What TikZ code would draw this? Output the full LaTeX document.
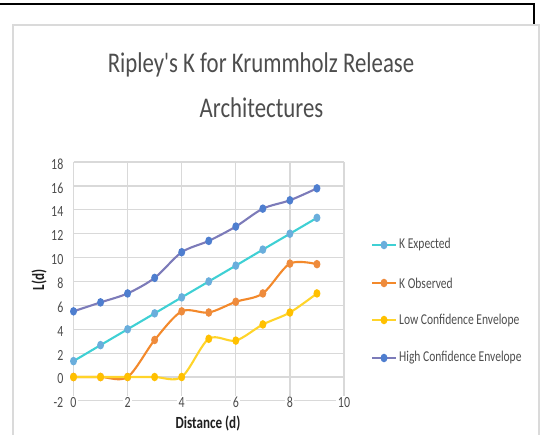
\documentclass[tikz,border=0pt]{standalone}
\usepackage{fontspec}
\newfontfamily\chartfont[FakeStretch=0.77]{Carlito}
\newfontfamily\titlefont[FakeStretch=0.80]{Carlito}
\definecolor{gridgray}{HTML}{D9D9D9}
\definecolor{framegray}{HTML}{DADADA}
\definecolor{txtgray}{HTML}{4D4D4D}
\definecolor{axisdark}{HTML}{1F1F1F}
\definecolor{expline}{HTML}{3FD0D4}
\definecolor{expmark}{HTML}{6AAEDC}
\definecolor{obsline}{HTML}{F3892B}
\definecolor{obsmark}{HTML}{EE8B3C}
\definecolor{lowline}{HTML}{FFD42A}
\definecolor{lowmark}{HTML}{FFC000}
\definecolor{highline}{HTML}{7C7BB9}
\definecolor{highmark}{HTML}{4E7ECF}
\tikzset{
  gridline/.style={draw=gridgray, line width=1.2pt},
  seriesline/.style={line width=2.1pt, line join=round, line cap=round},
  ticklabel/.style={font=\chartfont\fontsize{15.5}{15.5}\selectfont, text=txtgray, inner sep=1pt},
  legendtext/.style={font=\chartfont\fontsize{15}{15}\selectfont, text=txtgray, anchor=west, inner sep=0pt},
  axistitle/.style={font=\chartfont\bfseries\fontsize{17}{17}\selectfont, text=axisdark, inner sep=0pt},
  titletext/.style={font=\titlefont\fontsize{28.5}{28.5}\selectfont, text=txtgray, inner sep=0pt, anchor=base},
  dot/.style={x radius=3.5pt, y radius=4.3pt},
}
\begin{document}
\begin{tikzpicture}[x=1pt,y=1pt]
\useasboundingbox (0,0) rectangle (556,434);

% dark corner rule along the top edge
\coordinate (ruleL) at (0,430);
\coordinate (ruleC) at (534,430);
\coordinate (ruleD) at (534,409);
\draw[line width=2pt, line join=miter] (ruleL) -- (ruleC) -- (ruleD);

% chart frame
\draw[draw=framegray, line width=1.2pt] (13,-5) -- (13,409) -- (539,409) -- (539,-5);

% title
\node[titletext] (title1) at (261,361) {Ripley's K for Krummholz Release};
\node[titletext] (title2) at (261.5,316) {Architectures};

% plot area: data coordinates
\begin{scope}[shift={(73.5,57)}, x=27.05pt, y=11.94pt]
  \foreach \v in {-2,0,...,18}
    \draw[gridline] (0,\v) -- (10,\v);
  \foreach \u in {0,2,...,10}
    \draw[gridline] (\u,-2) -- (\u,18);

  \foreach \v [count=\i] in {-2,0,...,18}
    \node[ticklabel, anchor=east] (ytick\i) at ([xshift=-9pt,yshift=-2pt]0,\v) {\v};
  \foreach \u [count=\i] in {0,2,...,10}
    \node[ticklabel, fill=white, inner xsep=1.5pt] (xtick\i) at (\u,-2.1) {\u};

  % K Expected
  \foreach \y [count=\i from 0] in {1.33,2.67,4.0,5.33,6.67,8.0,9.33,10.67,12.0,13.33}
    \coordinate (e\i) at (\i,\y);
  \draw[seriesline, expline] plot[smooth, tension=0.5] coordinates {(e0)(e1)(e2)(e3)(e4)(e5)(e6)(e7)(e8)(e9)};
  \foreach \i in {0,...,9} \fill[expmark] (e\i) ellipse[dot];

  % K Observed
  \foreach \y [count=\i from 0] in {0,0,0,3.1,5.5,5.4,6.3,7.0,9.5,9.45}
    \coordinate (o\i) at (\i,\y);
  \draw[seriesline, obsline] plot[smooth, tension=0.5] coordinates {(o0)(o1)(o2)(o3)(o4)(o5)(o6)(o7)(o8)(o9)};
  \foreach \i in {0,...,9} \fill[obsmark] (o\i) ellipse[dot];

  % Low Confidence Envelope
  \foreach \y [count=\i from 0] in {0,0,0,0,0,3.2,3.05,4.4,5.4,7.0}
    \coordinate (l\i) at (\i,\y);
  \draw[seriesline, lowline] plot[smooth, tension=0.5] coordinates {(l0)(l1)(l2)(l3)(l4)(l5)(l6)(l7)(l8)(l9)};
  \foreach \i in {0,...,9} \fill[lowmark] (l\i) ellipse[dot];

  % High Confidence Envelope
  \foreach \y [count=\i from 0] in {5.5,6.25,7.0,8.3,10.45,11.4,12.6,14.1,14.8,15.8}
    \coordinate (h\i) at (\i,\y);
  \draw[seriesline, highline] plot[smooth, tension=0.5] coordinates {(h0)(h1)(h2)(h3)(h4)(h5)(h6)(h7)(h8)(h9)};
  \foreach \i in {0,...,9} \fill[highmark] (h\i) ellipse[dot];
\end{scope}

% axis titles
\node[axistitle, rotate=90] (ytitle) at (39,154) {L(d)};
\node[axistitle, anchor=base] (xtitle) at (208,6) {Distance (d)};

% legend
\foreach \n/\yy/\lc/\mc/\txt in {
    exp/189/expline/expmark/K Expected,
    obs/151/obsline/obsmark/K Observed,
    low/114/lowline/lowmark/Low Confidence Envelope,
    high/76/highline/highmark/High Confidence Envelope} {
  \coordinate (leg\n a) at (372,\yy);
  \coordinate (leg\n b) at (396,\yy);
  \coordinate (leg\n m) at (384,\yy);
  \draw[seriesline, \lc, line cap=butt] (leg\n a) -- (leg\n b);
  \fill[\mc] (leg\n m) ellipse[dot];
  \node[legendtext] (leg\n t) at (399,\yy) {\txt};
}
\end{tikzpicture}
\end{document}
